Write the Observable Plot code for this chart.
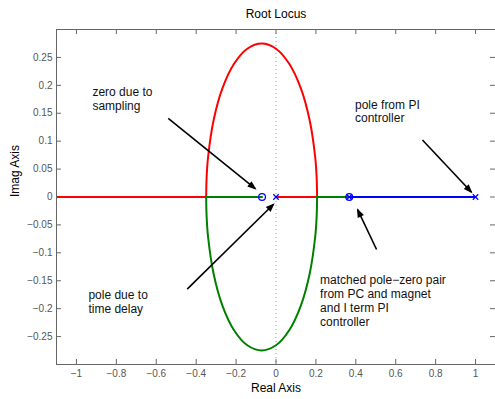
<!DOCTYPE html>
<html><head><meta charset="utf-8">
<script src="https://cdn.jsdelivr.net/npm/d3@7"></script>
<script src="https://cdn.jsdelivr.net/npm/@observablehq/plot@0.6"></script>
<style>body{margin:0;background:#fff;font-family:"Liberation Sans",Arial,sans-serif}</style>
</head><body><div id="chart"></div>
<script>
const xTicks = [-1, -0.8, -0.6, -0.4, -0.2, 0, 0.2, 0.4, 0.6, 0.8, 1];
const yTicks = [-0.25, -0.2, -0.15, -0.1, -0.05, 0, 0.05, 0.1, 0.15, 0.2, 0.25];

// complex branches
const upperX = [0.206, 0.2036, 0.1965, 0.1687, 0.1246, 0.067, 0.0, -0.072, -0.144, -0.211, -0.2686, -0.3127, -0.3405, -0.3476, -0.35];
const upperY = [0, 0.0359, 0.0712, 0.1375, 0.1945, 0.2382, 0.2656, 0.275, 0.2656, 0.2382, 0.1945, 0.1375, 0.0712, 0.0359, 0];
const lowerX = [0.206, 0.2036, 0.1965, 0.1687, 0.1246, 0.067, 0.0, -0.072, -0.144, -0.211, -0.2686, -0.3127, -0.3405, -0.3476, -0.35];
const lowerY = [0, -0.0359, -0.0712, -0.1375, -0.1945, -0.2382, -0.2656, -0.275, -0.2656, -0.2382, -0.1945, -0.1375, -0.0712, -0.0359, 0];

// real-axis segments
const redReal1 = [-1.1, -0.35];
const redReal2 = [0, 0.206];
const greenReal1 = [-0.35, -0.07];
const greenReal2 = [0.206, 0.367];
const blueReal = [0.367, 1];

// poles and zeros
const polesX = [0, 0.367, 1];
const zerosX = [-0.07, 0.367];

// annotation arrows
const arrowX1 = [-0.540, -0.445, 0.734, 0.504];
const arrowY1 = [0.141, -0.165, 0.102, -0.094];
const arrowX2 = [-0.104, -0.0125, 0.979, 0.409];
const arrowY2 = [0.015, -0.013, 0.009, -0.0227];

// annotation texts
const noteText = ["zero due to\nsampling", "pole due to\ntime delay", "pole from PI\ncontroller", "matched pole\u2212zero pair\nfrom PC and magnet\nand I term PI\ncontroller"];
const noteX = [-0.92, -0.94, 0.396, 0.221];
const noteY = [0.198, -0.165, 0.176, -0.139];

const pts = (xs, ys) => xs.map((x, i) => ({x, y: ys[i]}));
const realPts = (xs) => xs.map(x => ({x, y: 0}));
const arrows = arrowX1.map((x, i) => ({x1: x, y1: arrowY1[i], x2: arrowX2[i], y2: arrowY2[i]}));
const notes = noteText.map((t, i) => ({t, x: noteX[i], y: noteY[i]}));
const fmt = d => String(d).replace("-", "\u2212");
const font = "Liberation Sans, Arial, sans-serif";

const chart = Plot.plot({
  width: 495,
  height: 399,
  marginLeft: 56,
  marginRight: 0,
  marginTop: 29,
  marginBottom: 35,
  style: {fontFamily: font, background: "#fff"},
  x: {domain: [-1.1, 1.1]},
  y: {domain: [-0.3, 0.3]},
  marks: [
    Plot.ruleX([0], {stroke: "#999", strokeDasharray: "1,3", strokeWidth: 1}),
    // inward ticks
    Plot.ruleX(xTicks, {x: d => d, insetTop: 330, stroke: "#666"}),
    Plot.ruleX(xTicks, {x: d => d, insetBottom: 330, stroke: "#666"}),
    Plot.ruleY(yTicks, {y: d => d, insetRight: 434, stroke: "#666"}),
    Plot.ruleY(yTicks, {y: d => d, insetLeft: 434, stroke: "#666"}),
    Plot.axisX(xTicks, {tickSize: 0, tickPadding: 5, tickFormat: fmt, fontSize: 10, fill: "#555", label: null}),
    Plot.axisY(yTicks, {tickSize: 0, tickPadding: 4, tickFormat: fmt, fontSize: 10, fill: "#555", label: null}),
    Plot.line(realPts(redReal1), {x: "x", y: "y", stroke: "#ff0000", strokeWidth: 2, clip: true}),
    Plot.line(realPts(redReal2), {x: "x", y: "y", stroke: "#ff0000", strokeWidth: 2}),
    Plot.line(pts(upperX, upperY), {x: "x", y: "y", stroke: "#ff0000", strokeWidth: 2, curve: "catmull-rom"}),
    Plot.line(realPts(greenReal1), {x: "x", y: "y", stroke: "#008000", strokeWidth: 2}),
    Plot.line(realPts(greenReal2), {x: "x", y: "y", stroke: "#008000", strokeWidth: 2}),
    Plot.line(pts(lowerX, lowerY), {x: "x", y: "y", stroke: "#008000", strokeWidth: 2, curve: "catmull-rom"}),
    Plot.line(realPts(blueReal), {x: "x", y: "y", stroke: "#0000ff", strokeWidth: 2}),
    Plot.dot(realPts(zerosX), {x: "x", y: "y", symbol: "circle", r: 3.4, stroke: "#0000ff", fill: "none", strokeWidth: 1.2}),
    Plot.dot(realPts(polesX), {x: "x", y: "y", symbol: "times", r: 2.6, stroke: "#0000ff", strokeWidth: 1.2}),
    Plot.link(arrows, {x1: "x1", y1: "y1", x2: "x2", y2: "y2", stroke: "#000", strokeWidth: 1.6, markerEnd: "arrow"}),
    Plot.text(notes, {x: "x", y: "y", text: "t", textAnchor: "start", lineAnchor: "top", lineHeight: 1.15, fontSize: 12, fill: "#111"}),
    Plot.frame({stroke: "#666"}),
    Plot.text(["Root Locus"], {frameAnchor: "top", lineAnchor: "middle", dy: -15, fontSize: 12, fill: "#000"}),
    Plot.text(["Real Axis"], {frameAnchor: "bottom", lineAnchor: "middle", dy: 24, fontSize: 12, fill: "#000"}),
    Plot.text(["Imag Axis"], {frameAnchor: "left", dx: -41, rotate: -90, fontSize: 12, fill: "#000"})
  ]
});
// filled arrow heads
d3.select(chart).selectAll("marker").attr("fill", "#000").attr("stroke", "none").style("overflow", "visible")
  .selectAll("path").attr("d", "M-7,-3.2L1.5,0L-7,3.2Z");
document.getElementById("chart").appendChild(chart);
</script>
</body></html>
